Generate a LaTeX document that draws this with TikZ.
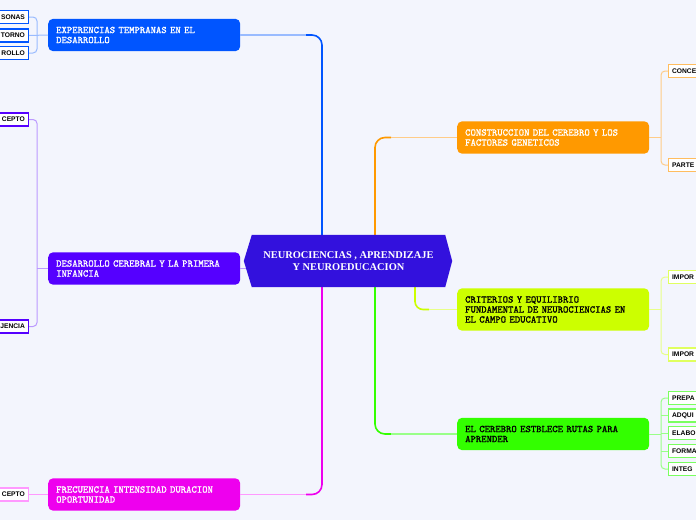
\documentclass[tikz,border=0pt]{standalone}
\usepackage{fontspec}
\setmonofont{Latin Modern Mono}[AutoFakeBold=1.3]
\newfontfamily\sansfnt{Liberation Sans}
\newfontfamily\seriffnt{Liberation Serif}
\usetikzlibrary{calc}
\definecolor{bg}{HTML}{F3F5FD}
\definecolor{cen}{HTML}{3311DD}
\definecolor{cblue}{HTML}{0055FF}
\definecolor{lblue}{HTML}{99BBFF}
\definecolor{cpur}{HTML}{5500FF}
\definecolor{lpur}{HTML}{BB99FF}
\definecolor{cmag}{HTML}{EE00EE}
\definecolor{lmag}{HTML}{FF99FF}
\definecolor{cora}{HTML}{FF9900}
\definecolor{lora}{HTML}{FFCC88}
\definecolor{cyel}{HTML}{CCFF00}
\definecolor{lyel}{HTML}{E8FF88}
\definecolor{cgre}{HTML}{33FF00}
\definecolor{lgre}{HTML}{99FF88}
\tikzset{
  topic/.style={rounded corners=5pt, minimum height=31pt, text width=176pt, align=left,
    inner xsep=8pt, inner ysep=8pt, font=\ttfamily\bfseries\fontsize{10.2}{10}\selectfont},
  lchild/.style={draw, fill=white, line width=1.2pt, anchor=east, minimum height=13pt,
    text width=52pt, align=right, inner xsep=3.5pt, inner ysep=0pt, text=black,
    font=\sansfnt\bfseries\fontsize{6.7}{8}\selectfont},
  rchild/.style={lchild, anchor=west, align=left},
  vline/.style={line width=1.6pt, rounded corners=10pt},
  hline/.style={line width=1.2pt},
  brk/.style={line width=1pt, rounded corners=4pt},
}
\begin{document}
\begin{tikzpicture}[x=1pt, y=-1pt]
\fill[bg] (0,0) rectangle (696,520);
\useasboundingbox (0,0) rectangle (696,520);

% centre
\node[minimum width=193pt, minimum height=52pt, inner sep=0pt] (c) at (348.5,261) {};
% topics
\node[topic, fill=cblue, text=white, anchor=west] (n1) at (48,35) {EXPERENCIAS TEMPRANAS EN EL\\DESARROLLO};
\node[topic, fill=cpur, text=white, anchor=west] (n2) at (48,268.5) {DESARROLLO CEREBRAL Y LA PRIMERA\\INFANCIA};
\node[topic, fill=cmag, text=white, anchor=west] (n3) at (48,494.5) {FRECUENCIA INTENSIDAD DURACION\\OPORTUNIDAD};
\node[topic, fill=cora, text=white, anchor=west] (n4) at (457,137.5) {CONSTRUCCION DEL CEREBRO Y LOS\\FACTORES GENETICOS};
\node[topic, fill=cyel, text=black, anchor=west] (n5) at (457,309.5) {CRITERIOS Y EQUILIBRIO\\FUNDAMENTAL DE NEUROCIENCIAS EN\\EL CAMPO EDUCATIVO};
\node[topic, fill=cgre, text=black, anchor=west] (n6) at (457,434) {EL CEREBRO ESTBLECE RUTAS PARA\\APRENDER};

% connector x positions
\coordinate (bx) at (322,0);
\coordinate (ox) at (375,0);
\coordinate (yx) at (415,0);

% centre connectors
\draw[vline, cblue] (c.north -| bx) |- ($(n1.east -| bx)+(-16,0)$);
\draw[hline, lblue] ($(n1.east -| bx)+(-16,0)$) -- (n1.east);
\draw[vline, cmag] (c.south -| bx) |- ($(n3.east -| bx)+(-16,0)$);
\draw[hline, lmag] ($(n3.east -| bx)+(-16,0)$) -- (n3.east);
\draw[hline, lpur] (n2.east) -- ($(n2.east)+(10,0)$);
\draw[vline, cora] (c.north -| ox) |- ($(n4.west -| ox)+(16,0)$);
\draw[hline, lora] ($(n4.west -| ox)+(16,0)$) -- (n4.west);
\draw[vline, cyel, rounded corners=8pt] (c.south -| yx) |- ($(n5.west -| yx)+(14,0)$);
\draw[hline, lyel] ($(n5.west -| yx)+(14,0)$) -- (n5.west);
\draw[vline, cgre] (c.south -| ox) |- ($(n6.west -| ox)+(16,0)$);
\draw[hline, lgre] ($(n6.west -| ox)+(16,0)$) -- (n6.west);

% centre shape on top
\fill[cen] (c.north west) -- (c.north east) -- ($(c.east)+(7,0)$) -- (c.south east)
  -- (c.south west) -- ($(c.west)+(-8,0)$) -- cycle;
\node[text=white, align=center, font=\seriffnt\bfseries\fontsize{10.4}{12}\selectfont] (ct) at (c.center)
  {NEUROCIENCIAS , APRENDIZAJE\\Y NEUROEDUCACION};

% left children
\node[lchild, draw=cblue] (k1a) at (29,17) {SONAS};
\node[lchild, draw=cblue] (k1b) at (29,35.5) {TORNO};
\node[lchild, draw=cblue] (k1c) at (29,53) {ROLLO};
\coordinate (j1) at (37,35);
\draw[brk, lblue] (k1a.east) -| (j1) |- (k1c.east);
\draw[brk, lblue] (k1b.east) -- (n1.west);

\node[lchild, draw=cpur] (k2a) at (29,119.5) {CEPTO};
\node[lchild, draw=cpur] (k2b) at (29,326.5) {JENCIA};
\coordinate (j2) at (37,268.5);
\draw[brk, lpur] (k2a.east) -| (j2) |- (k2b.east);
\draw[brk, lpur] (j2) -- (n2.west);

\node[lchild, draw=lmag] (k3) at (29,494.5) {CEPTO};
\draw[brk, lmag] (k3.east) -- (n3.west);

% right children
\node[rchild, draw=lora!70!cora] (k4a) at (668,71) {CONCE};
\node[rchild, draw=lora!70!cora] (k4b) at (668,165) {PARTE};
\coordinate (j4) at (661,137.5);
\draw[brk, lora] (k4a.west) -| (j4) |- (k4b.west);
\draw[brk, lora] (j4) -- (n4.east);

\node[rchild, draw=lyel!70!cyel] (k5a) at (668,277) {IMPOR};
\node[rchild, draw=lyel!70!cyel] (k5b) at (668,354.5) {IMPOR};
\coordinate (j5) at (661,309.5);
\draw[brk, lyel] (k5a.west) -| (j5) |- (k5b.west);
\draw[brk, lyel] (j5) -- (n5.east);

\node[rchild, draw=lgre!70!cgre] (k6a) at (668,398) {PREPA};
\node[rchild, draw=lgre!70!cgre] (k6b) at (668,415.5) {ADQUI};
\node[rchild, draw=lgre!70!cgre] (k6c) at (668,433) {ELABO};
\node[rchild, draw=lgre!70!cgre] (k6d) at (668,451) {FORMA};
\node[rchild, draw=lgre!70!cgre] (k6e) at (668,469) {INTEG};
\coordinate (j6) at (661,434);
\draw[brk, lgre] (k6a.west) -| (j6) |- (k6e.west);
\draw[brk, lgre] (j6) -- (n6.east);
\draw[brk, lgre] (k6b.west) -- (k6b.west -| j6);
\draw[brk, lgre] (k6c.west) -- (k6c.west -| j6);
\draw[brk, lgre] (k6d.west) -- (k6d.west -| j6);
\end{tikzpicture}
\end{document}
